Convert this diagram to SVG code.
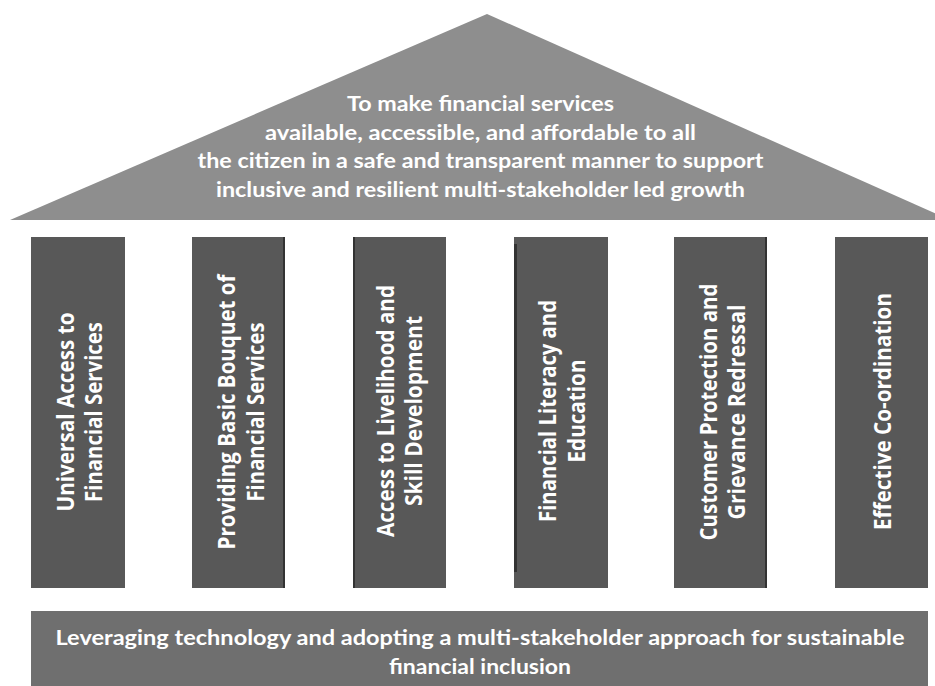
<svg xmlns="http://www.w3.org/2000/svg" width="935" height="686" viewBox="0 0 935 686">
  <style>
    .roof { fill: #8e8e8e; }
    .pillar { fill: #585858; }
    .edge { fill: #333333; }
    .base { fill: #6f6f6f; }
    .roof-text { font-family: Lato, "Liberation Sans", sans-serif; font-weight: 700; font-size: 21px; fill: #ffffff; text-anchor: middle; }
    .pillar-text { font-family: "Open Sans", "Liberation Sans", sans-serif; font-weight: 700; font-size: 23px; fill: #ffffff; text-anchor: middle; }
    .base-text { font-family: Lato, "Liberation Sans", sans-serif; font-weight: 700; font-size: 21px; fill: #ffffff; text-anchor: middle; }
  </style>
  <rect width="935" height="686" fill="#ffffff"/>

  <!-- Roof: the goal statement -->
  <g id="roof">
    <polygon class="roof" points="487,14 950,220 10,220"/>
    <text class="roof-text" x="480.5" y="111" textLength="267" lengthAdjust="spacingAndGlyphs">To make financial services</text>
    <text class="roof-text" x="480.5" y="140" textLength="431" lengthAdjust="spacingAndGlyphs">available, accessible, and affordable to all</text>
    <text class="roof-text" x="480.5" y="168" textLength="566" lengthAdjust="spacingAndGlyphs">the citizen in a safe and transparent manner to support</text>
    <text class="roof-text" x="480.5" y="197" textLength="529" lengthAdjust="spacingAndGlyphs">inclusive and resilient multi-stakeholder led growth</text>
  </g>

  <!-- Pillars: vertical labels read bottom to top -->
  <g id="pillar-1">
    <rect class="pillar" x="31" y="237" width="94" height="351"/>
    <g transform="translate(77.5,412) rotate(-90)">
      <text class="pillar-text" x="0" y="-4" textLength="199" lengthAdjust="spacingAndGlyphs">Universal Access to</text>
      <text class="pillar-text" x="0" y="24.5" textLength="180" lengthAdjust="spacingAndGlyphs">Financial Services</text>
    </g>
  </g>

  <g id="pillar-2">
    <rect class="pillar" x="192" y="237" width="93" height="351"/>
    <rect class="edge" x="283" y="237" width="2" height="351"/>
    <g transform="translate(238.5,412) rotate(-90)">
      <text class="pillar-text" x="0" y="-3.5" textLength="275" lengthAdjust="spacingAndGlyphs">Providing Basic Bouquet of</text>
      <text class="pillar-text" x="0" y="25" textLength="179" lengthAdjust="spacingAndGlyphs">Financial Services</text>
    </g>
  </g>

  <g id="pillar-3">
    <rect class="pillar" x="353" y="237" width="93" height="351"/>
    <rect class="edge" x="353" y="237" width="2" height="351"/>
    <g transform="translate(399.5,411) rotate(-90)">
      <text class="pillar-text" x="0" y="-5.5" textLength="252" lengthAdjust="spacingAndGlyphs">Access to Livelihood and</text>
      <text class="pillar-text" x="0" y="22.5" textLength="190" lengthAdjust="spacingAndGlyphs">Skill Development</text>
    </g>
  </g>

  <g id="pillar-4">
    <rect class="pillar" x="514" y="237" width="94" height="351"/>
    <rect class="edge" x="514" y="244" width="3" height="328"/>
    <g transform="translate(561,411) rotate(-90)">
      <text class="pillar-text" x="0" y="-5.5" textLength="222" lengthAdjust="spacingAndGlyphs">Financial Literacy and</text>
      <text class="pillar-text" x="0" y="23.5" textLength="103" lengthAdjust="spacingAndGlyphs">Education</text>
    </g>
  </g>

  <g id="pillar-5">
    <rect class="pillar" x="674" y="237" width="93" height="351"/>
    <rect class="edge" x="765" y="237" width="2" height="351"/>
    <g transform="translate(720.5,412) rotate(-90)">
      <text class="pillar-text" x="0" y="-4" textLength="257" lengthAdjust="spacingAndGlyphs">Customer Protection and</text>
      <text class="pillar-text" x="0" y="24.5" textLength="215" lengthAdjust="spacingAndGlyphs">Grievance Redressal</text>
    </g>
  </g>

  <g id="pillar-6">
    <rect class="pillar" x="835" y="237" width="93" height="351"/>
    <g transform="translate(881.5,411.5) rotate(-90)">
      <text class="pillar-text" x="0" y="9.5" textLength="237" lengthAdjust="spacingAndGlyphs">Effective Co-ordination</text>
    </g>
  </g>

  <!-- Foundation -->
  <g id="base">
    <rect class="base" x="31" y="611" width="897" height="75"/>
    <text class="base-text" x="480" y="645" textLength="849" lengthAdjust="spacingAndGlyphs">Leveraging technology and adopting a multi-stakeholder approach for sustainable</text>
    <text class="base-text" x="480" y="674" textLength="182" lengthAdjust="spacingAndGlyphs">financial inclusion</text>
  </g>

  <g id="connectors"/>
</svg>
